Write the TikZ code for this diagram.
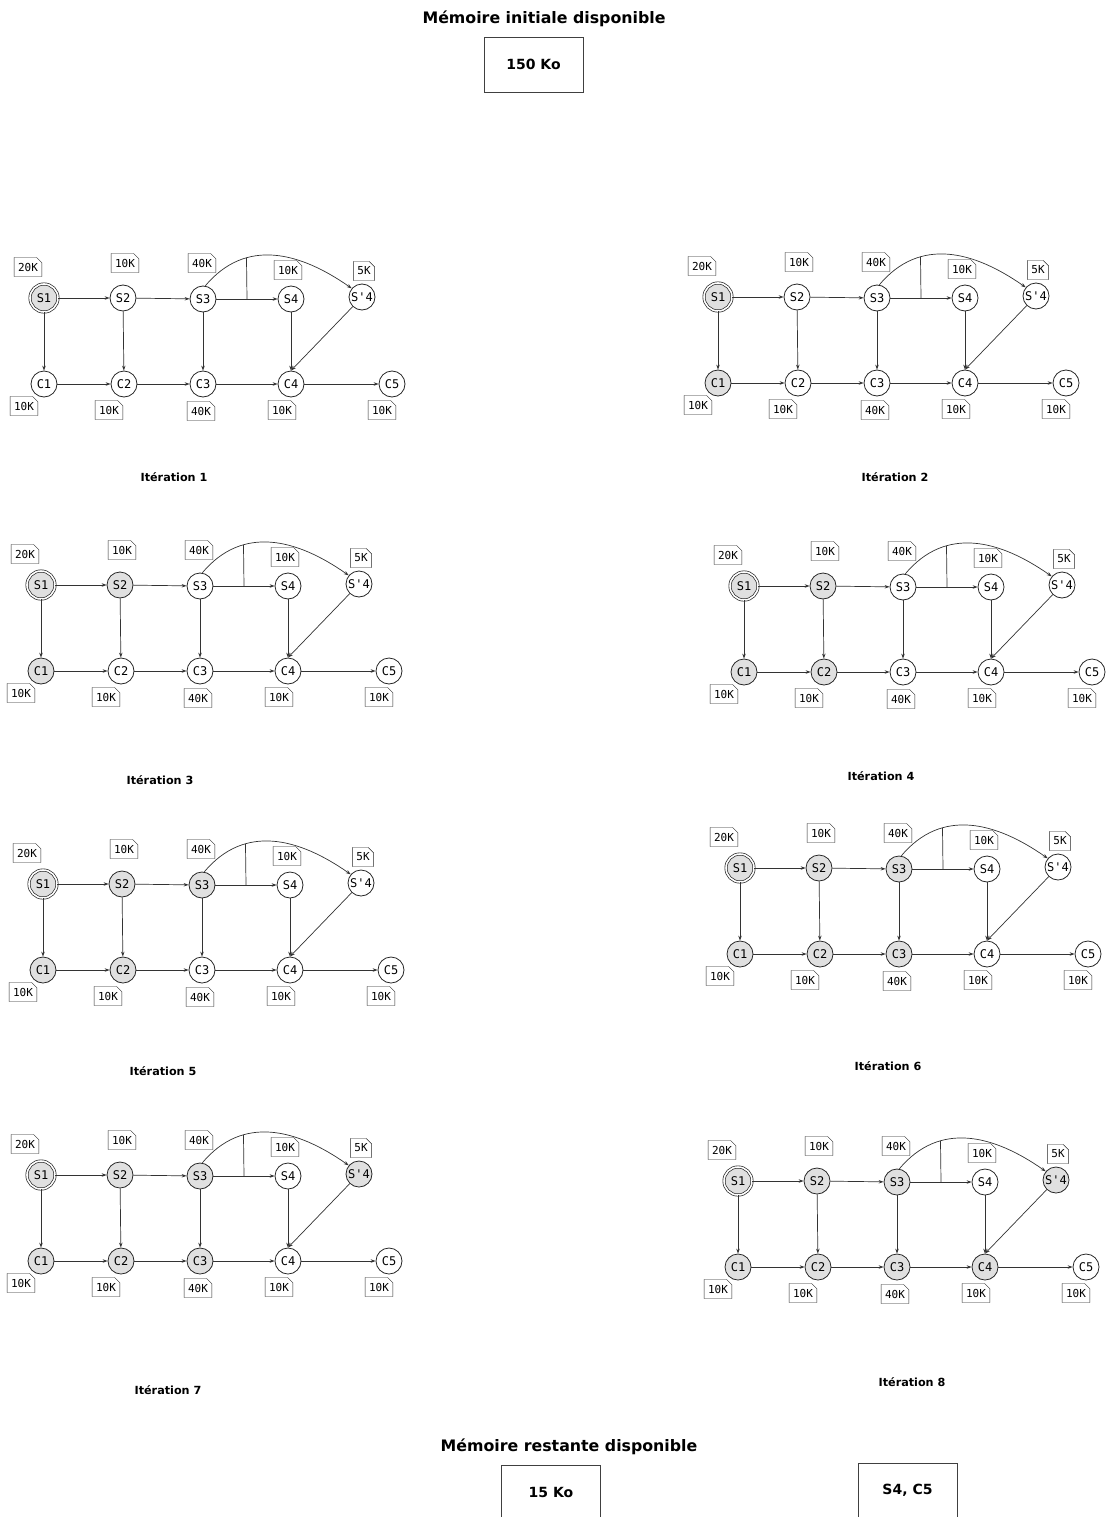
\documentclass[tikz,border=0pt]{standalone}
\usepackage{fontspec}
\setsansfont{DejaVu Sans}
\setmonofont{DejaVu Sans Mono}
\usetikzlibrary{arrows.meta,shapes.misc}

\tikzset{
  etat/.style={circle, draw=black!85, line width=0.8pt, fill=white, minimum size=26pt, inner sep=0pt,
    font=\ttfamily\fontsize{12}{12}\selectfont},
  debut/.style={double, double distance=1.6pt, line width=0.7pt, minimum size=28pt},
  grise/.style={fill=black!12},
  vus/.style={pris/#1/.style=grise},
  memo/.style={chamfered rectangle, chamfered rectangle corners=north east,
    chamfered rectangle xsep=2.5pt, draw=black!85, inner xsep=1.5pt, inner ysep=2pt,
    minimum height=19pt, font=\ttfamily\fontsize{11}{11}\selectfont},
  fleche/.style={-{Stealth[length=5pt,width=3.5pt]}, draw=black!80, line width=0.7pt},
  trait/.style={draw=black!80, line width=0.7pt},
  titre/.style={font=\sffamily\bfseries\fontsize{11.2}{11.2}\selectfont},
  grandtitre/.style={font=\sffamily\bfseries\fontsize{15.8}{15.8}\selectfont},
  boite/.style={draw=black!75, minimum width=99pt, minimum height=55pt,
    font=\sffamily\bfseries\fontsize{14}{14}\selectfont}
}

\newcommand\graphe{
  \node (S1) [etat, debut, pris/S1/.try] at (0,0) {S1};
  \node (S2) [etat, pris/S2/.try] at (79,0) {S2};
  \node (S3) [etat, pris/S3/.try] at (159,1) {S3};
  \node (S4) [etat, pris/S4/.try] at (247,1) {S4};
  \node (Sp4) [etat, pris/Sp4/.try] at (318,-1) {S\textquotesingle 4};
  \node (C1) [etat, pris/C1/.try] at (0,86) {C1};
  \node (C2) [etat, pris/C2/.try] at (80,86) {C2};
  \node (C3) [etat, pris/C3/.try] at (159,86) {C3};
  \node (C4) [etat, pris/C4/.try] at (247,86) {C4};
  \node (C5) [etat, pris/C5/.try] at (348,86) {C5};

  \node (mS1) [memo] at ([shift={(-16,-31)}]S1) {20K};
  \node (mS2) [memo] at ([shift={(2,-35)}]S2) {10K};
  \node (mS3) [memo] at ([shift={(-1,-36)}]S3) {40K};
  \node (mS4) [memo] at ([shift={(-3,-29)}]S4) {10K};
  \node (mSp4) [memo] at ([shift={(2,-26)}]Sp4) {5K};
  \node (mC1) [memo] at ([shift={(-20,22)}]C1) {10K};
  \node (mC2) [memo] at ([shift={(-15,26)}]C2) {10K};
  \node (mC3) [memo] at ([shift={(-2,27)}]C3) {40K};
  \node (mC4) [memo] at ([shift={(-9,26)}]C4) {10K};
  \node (mC5) [memo] at ([shift={(-10,26)}]C5) {10K};

  \draw[fleche] (S1) -- (S2);
  \draw[fleche] (S2) -- (S3);
  \draw[fleche] (S3) -- coordinate[midway] (m) (S4);
  \draw[fleche] (S3.80) to[out=50, in=145, looseness=1.1] coordinate[pos=0.31] (h) (Sp4.140);
  \draw[trait] (m) -- (h);
  \draw[fleche] (S1) -- (C1);
  \draw[fleche] (S2) -- (C2);
  \draw[fleche] (S3) -- (C3);
  \draw[fleche] (S4) -- (C4);
  \draw[fleche] (Sp4) -- (C4.north);
  \draw[fleche] (C1) -- (C2);
  \draw[fleche] (C2) -- (C3);
  \draw[fleche] (C3) -- (C4);
  \draw[fleche] (C4) -- (C5);
}

\begin{document}
\begin{tikzpicture}[x=1pt, y=-1pt]
  \useasboundingbox (0,0) rectangle (1106,1517);

  \node (haut) [grandtitre] at (544,19) {Mémoire initiale disponible};
  \node (init) [boite] at (533.5,64.5) {150 Ko};

  \begin{scope}[shift={(44,298)}, name prefix=g1-, vus/.list={S1}]
    \graphe
  \end{scope}
  \begin{scope}[shift={(718,297)}, name prefix=g2-, vus/.list={S1,C1}]
    \graphe
  \end{scope}
  \begin{scope}[shift={(41,585)}, name prefix=g3-, vus/.list={S1,C1,S2}]
    \graphe
  \end{scope}
  \begin{scope}[shift={(744,586)}, name prefix=g4-, vus/.list={S1,C1,S2,C2}]
    \graphe
  \end{scope}
  \begin{scope}[shift={(43,884)}, name prefix=g5-, vus/.list={S1,C1,S2,C2,S3}]
    \graphe
  \end{scope}
  \begin{scope}[shift={(740,868)}, name prefix=g6-, vus/.list={S1,C1,S2,C2,S3,C3}]
    \graphe
  \end{scope}
  \begin{scope}[shift={(41,1175)}, name prefix=g7-, vus/.list={S1,C1,S2,C2,S3,C3,Sp4}]
    \graphe
  \end{scope}
  \begin{scope}[shift={(738,1181)}, name prefix=g8-, vus/.list={S1,C1,S2,C2,S3,C3,Sp4,C4}]
    \graphe
  \end{scope}

  \node (t1) [titre] at (174,477) {Itération 1};
  \node (t2) [titre] at (895,477) {Itération 2};
  \node (t3) [titre] at (160,780) {Itération 3};
  \node (t4) [titre] at (881,776) {Itération 4};
  \node (t5) [titre] at (163,1071) {Itération 5};
  \node (t6) [titre] at (888,1066) {Itération 6};
  \node (t7) [titre] at (168,1390) {Itération 7};
  \node (t8) [titre] at (912,1382) {Itération 8};

  \node (bas) [grandtitre] at (569,1447) {Mémoire restante disponible};
  \node (reste) [boite, anchor=north] at (551,1465) {15 Ko};
  \node (libres) [boite, anchor=north] at (907.5,1463) {S4, C5};
\end{tikzpicture}
\end{document}
